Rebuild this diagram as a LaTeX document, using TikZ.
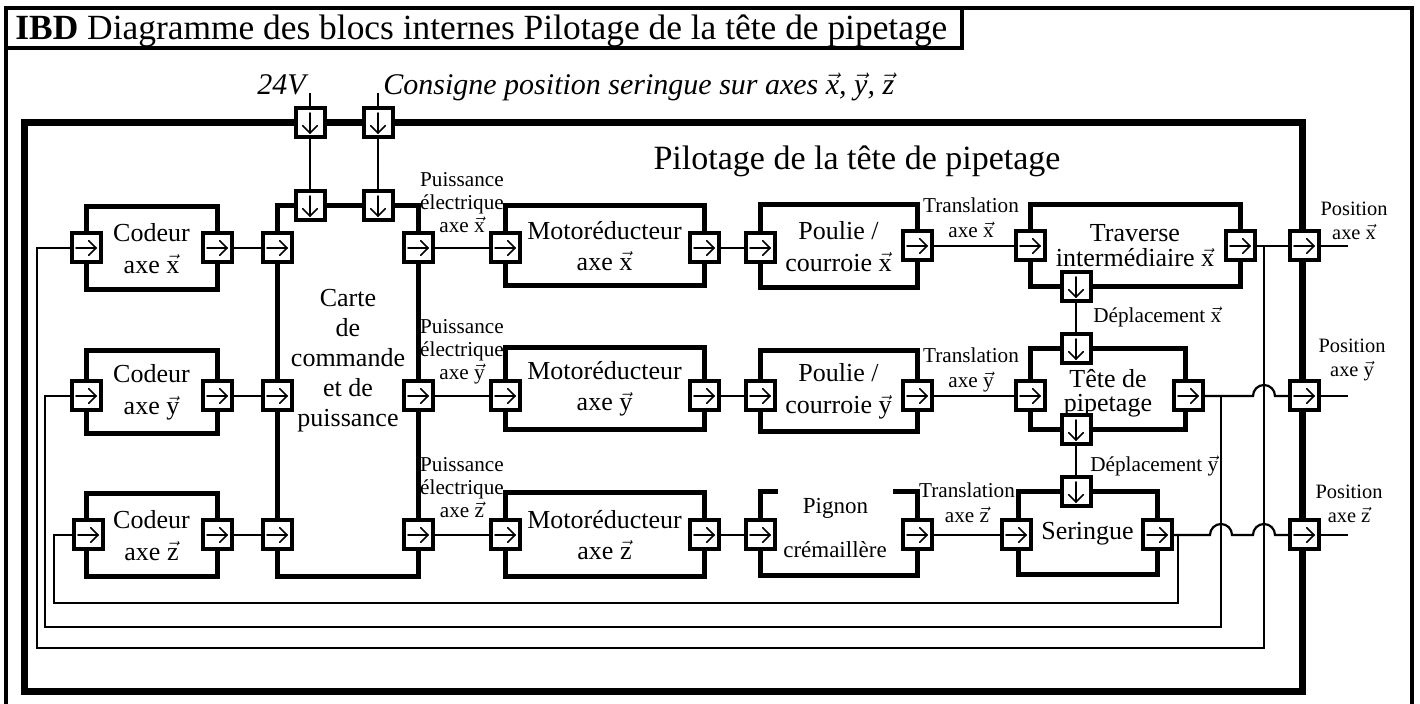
\documentclass[tikz,border=0pt]{standalone}
\usepackage{fontspec}
\setmainfont{Liberation Serif}
\newcommand\myvec[1]{\ensuremath{\vec{\mbox{#1}}}}
\newcommand\mkbox[7]{\node[#1, minimum width={(#5-#3)*0.5pt}, minimum height={(#6-#4)*0.5pt}] (#2) at ({(#3+#5)/2},{(#4+#6)/2}) {#7};}
\newcommand\mkport[4]{\node[port#4] (#1) at (#2,#3) {};}
\tikzset{
  frm/.style={draw, line width=1.8pt, inner sep=0pt, outer sep=0pt},
  sysfr/.style={draw, line width=3.5pt, inner sep=0pt, outer sep=0pt},
  blk/.style={draw, line width=2.5pt, fill=white, inner sep=0pt, outer sep=0pt, align=center, font=\fontsize{13}{15.5}\selectfont},
  blktxt/.style={inner sep=0pt, align=center},
  arr/.style={line width=0.8pt, line cap=round, line join=miter},
  port/.style={draw, line width=2pt, fill=white, minimum size=14.5pt, inner sep=0pt, outer sep=0pt},
  portr/.style={port, path picture={
     \draw[arr] ([xshift=-5pt]path picture bounding box.center) -- ([xshift=5pt]path picture bounding box.center);
     \draw[arr] ([xshift=1.3pt,yshift=3.7pt]path picture bounding box.center) -- ([xshift=5pt]path picture bounding box.center) -- ([xshift=1.3pt,yshift=-3.7pt]path picture bounding box.center);}},
  portd/.style={port, path picture={
     \draw[arr] ([yshift=5pt]path picture bounding box.center) -- ([yshift=-5pt]path picture bounding box.center);
     \draw[arr] ([xshift=3.7pt,yshift=-1.3pt]path picture bounding box.center) -- ([yshift=-5pt]path picture bounding box.center) -- ([xshift=-3.7pt,yshift=-1.3pt]path picture bounding box.center);}},
  conn/.style={line width=1.1pt},
  fb/.style={line width=0.8pt},
  lbl/.style={inner sep=0pt, align=center, text depth=0pt, font=\fontsize{10.6}{11.5}\selectfont},
  lbltr/.style={lbl, font=\fontsize{10.6}{12.5}\selectfont},
  lblpos/.style={lbl, font=\fontsize{10.2}{12}\selectfont},
  toptxt/.style={inner sep=0pt, font=\fontsize{15}{17}\selectfont\itshape},
}
\begin{document}
\begin{tikzpicture}[x=0.5pt,y=-0.5pt]
\useasboundingbox (0,0) rectangle (1420,704);
% frames
\mkbox{frm}{outer}{6}{8}{1412}{712}{}
\mkbox{frm}{tab}{6}{8}{962}{48}{}
\node[inner sep=0pt, anchor=base west, font=\fontsize{17.7}{19}\selectfont] (ttl) at (15,40) {\textbf{IBD} Diagramme des blocs internes Pilotage de la tête de pipetage};
\mkbox{sysfr}{sys}{24}{123}{1302}{692}{}
\node[inner sep=0pt, anchor=base, font=\fontsize{17}{19}\selectfont] (systtl) at (857,170) {Pilotage de la tête de pipetage};
% blocks
\mkbox{blk,font=\fontsize{13}{16}\selectfont}{cx}{86}{207}{217}{290}{Codeur\\axe \myvec{x}}
\mkbox{blk,font=\fontsize{13}{16}\selectfont}{cy}{86}{351}{217}{434}{Codeur\\axe \myvec{y}}
\mkbox{blk,font=\fontsize{13}{16}\selectfont}{cz}{86}{494}{217}{577}{Codeur\\axe \myvec{z}}
\mkbox{blk}{carte}{277}{206}{418}{577}{}
\node[blktxt, font=\fontsize{13}{15}\selectfont] (cartetxt) at (348,361) {Carte\\de\\commande\\et de\\puissance};
\mkbox{blk}{mx}{505}{206}{704}{286}{Motoréducteur\\axe \myvec{x}}
\mkbox{blk}{my}{505}{348}{704}{430}{Motoréducteur\\axe \myvec{y}}
\mkbox{blk}{mz}{505}{493}{704}{577}{Motoréducteur\\axe \myvec{z}}
\mkbox{blk,font=\fontsize{13}{16}\selectfont}{px}{760}{205}{917}{288}{Poulie /\\courroie \myvec{x}}
\mkbox{blk,font=\fontsize{13}{16}\selectfont}{py}{760}{351}{917}{432}{Poulie /\\courroie \myvec{y}}
\mkbox{blk}{pz}{760}{492}{917}{576}{}
\node[fill=white, inner sep=0pt, minimum width=57.5pt, minimum height=20pt, font=\fontsize{11.5}{13}\selectfont] (pign) at (835.5,508) {Pignon};
\node[inner sep=0pt, font=\fontsize{11.5}{13}\selectfont] (crem) at (835,550) {crémaillère};
\mkbox{blk,font=\fontsize{13}{12.5}\selectfont}{trav}{1030}{205}{1240}{287}{Traverse\\intermédiaire \myvec{x}}
\mkbox{blk}{tete}{1030}{349}{1185}{430}{}
\node[blktxt, font=\fontsize{13}{12}\selectfont] (tetetxt) at (1108,393) {Tête de\\pipetage};
\mkbox{blk}{ser}{1018}{492}{1157}{575}{Seringue}
% ports
\mkport{p24}{310}{123}{d}
\mkport{pco}{378}{123}{d}
\mkport{k24}{310}{206}{d}
\mkport{kco}{378}{206}{d}
\mkport{cxi}{86}{248}{r}  \mkport{cxo}{217}{248}{r}
\mkport{cyi}{86}{396}{r}  \mkport{cyo}{217}{396}{r}
\mkport{czi}{88}{535}{r}  \mkport{czo}{217}{535}{r}
\mkport{kxi}{277}{248}{r} \mkport{kxo}{418}{248}{r}
\mkport{kyi}{277}{396}{r} \mkport{kyo}{418}{396}{r}
\mkport{kzi}{277}{535}{r} \mkport{kzo}{418}{535}{r}
\mkport{mxi}{505}{248}{r} \mkport{mxo}{704}{248}{r}
\mkport{myi}{505}{396}{r} \mkport{myo}{704}{396}{r}
\mkport{mzi}{505}{535}{r} \mkport{mzo}{704}{535}{r}
\mkport{pxi}{760}{248}{r} \mkport{pxo}{917}{246}{r}
\mkport{pyi}{760}{396}{r} \mkport{pyo}{917}{396}{r}
\mkport{pzi}{760}{535}{r} \mkport{pzo}{917}{535}{r}
\mkport{txi}{1030}{246}{r} \mkport{txo}{1240}{246}{r}
\mkport{tvd}{1076}{287}{d}
\mkport{teu}{1076}{349}{d}
\mkport{ted}{1076}{430}{d}
\mkport{tei}{1030}{396}{r} \mkport{teo}{1188}{396}{r}
\mkport{seu}{1076}{492}{d}
\mkport{sei}{1016}{535}{r} \mkport{seo}{1157}{535}{r}
\mkport{bx}{1304}{246}{r}
\mkport{by}{1304}{396}{r}
\mkport{bz}{1304}{535}{r}
% free ends and junctions
\coordinate (f24) at (310,93);
\coordinate (fco) at (378,93);
\coordinate (ox) at (1348,246);
\coordinate (oy) at (1348,396);
\coordinate (oz) at (1348,535);
\coordinate (jx) at (1264,246);
\coordinate (jy) at (1221,396);
\coordinate (jz) at (1178,535);
\coordinate (hy) at (1253,396);
\coordinate (hz1) at (1210,535);
\coordinate (hz2) at (1253,535);
\coordinate (lx) at (37,648);
\coordinate (ly) at (45,627);
\coordinate (lz) at (54,603);
% connectors
\draw[conn] (f24) -- (p24);
\draw[conn] (p24) -- (k24);
\draw[conn] (fco) -- (pco);
\draw[conn] (pco) -- (kco);
\draw[conn] (cxo) -- (kxi);
\draw[conn] (cyo) -- (kyi);
\draw[conn] (czo) -- (kzi);
\draw[conn] (kxo) -- (mxi);
\draw[conn] (kyo) -- (myi);
\draw[conn] (kzo) -- (mzi);
\draw[conn] (mxo) -- (pxi);
\draw[conn] (myo) -- (pyi);
\draw[conn] (mzo) -- (pzi);
\draw[conn] (pxo) -- (txi);
\draw[conn] (pyo) -- (tei);
\draw[conn] (pzo) -- (sei);
\draw[conn] (tvd) -- (teu);
\draw[conn] (ted) -- (seu);
\draw[conn] (txo) -- (bx);
\draw[conn] (teo) -- (hy) arc[start angle=180, end angle=0, radius=5.5pt] -- (by);
\draw[conn] (seo) -- (hz1) arc[start angle=180, end angle=0, radius=5.5pt] -- (hz2) arc[start angle=180, end angle=0, radius=5.5pt] -- (bz);
\draw[conn] (bx) -- (ox);
\draw[conn] (by) -- (oy);
\draw[conn] (bz) -- (oz);
\draw[fb] (jx) |- (lx) |- (cxi);
\draw[fb] (jy) |- (ly) |- (cyi);
\draw[fb] (jz) |- (lz) |- (czi);
% labels
\node[toptxt, anchor=base east] (l24) at (306,95) {24V};
\node[toptxt, anchor=base west] (lco) at (383,95) {Consigne position seringue sur axes \myvec{x}, \myvec{y}, \myvec{z}};
\node[lbl, anchor=south] (lpx) at (462,233) {Puissance\\électrique\\axe \myvec{x}};
\node[lbl, anchor=south] (lpy) at (462,380) {Puissance\\électrique\\axe \myvec{y}};
\node[lbl, anchor=south] (lpz) at (462,518) {Puissance\\électrique\\axe \myvec{z}};
\node[lbltr, anchor=south] (ltx) at (971,238) {Translation\\axe \myvec{x}};
\node[lbltr, anchor=south] (lty) at (971,388) {Translation\\axe \myvec{y}};
\node[lbltr, anchor=south] (ltz) at (967,523) {Translation\\axe \myvec{z}};
\node[lblpos, anchor=south] (lox) at (1354,240) {Position\\axe \myvec{x}};
\node[lblpos, anchor=south] (loy) at (1352,377) {Position\\axe \myvec{y}};
\node[lblpos, anchor=south] (loz) at (1349,523) {Position\\axe \myvec{z}};
\node[lbl, anchor=base west] (ldx) at (1093,323) {Déplacement \myvec{x}};
\node[lbl, anchor=base west] (ldy) at (1090,472) {Déplacement \myvec{y}};
\end{tikzpicture}
\end{document}
